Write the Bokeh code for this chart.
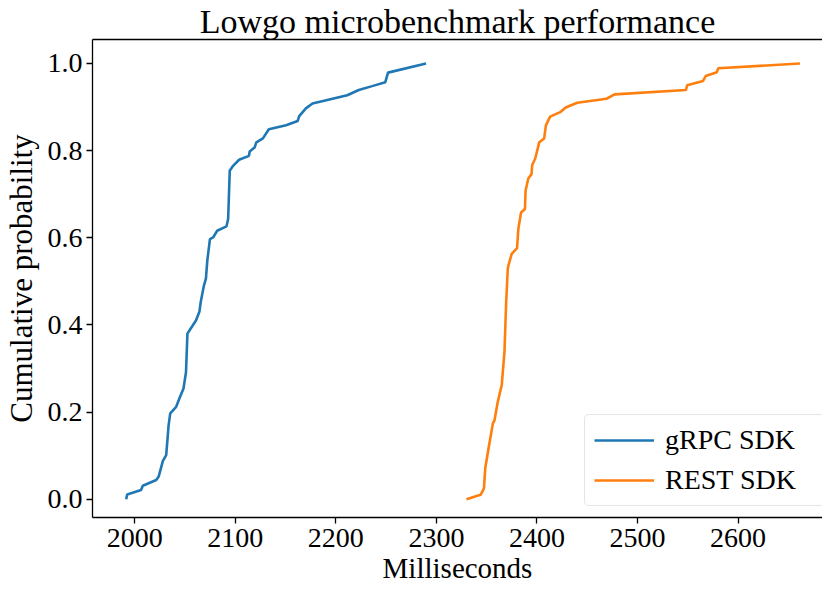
from bokeh.plotting import figure
from bokeh.models import (Range1d, FixedTicker, Legend, LegendItem, Title, LinearAxis)
from bokeh.embed import file_html
from bokeh.resources import INLINE

# CDF traces
grpc_ms = [1991.5, 1992.5, 2006.3, 2008.0, 2021.4, 2023.8, 2028.0, 2031.3, 2033.7, 2035.3,
           2041.2, 2045.1, 2048.5, 2051.0, 2052.4, 2054.4, 2060.9, 2064.3, 2065.6, 2067.5,
           2068.8, 2070.8, 2072.2, 2074.8, 2078.0, 2082.0, 2091.2, 2092.9, 2093.9, 2094.5,
           2097.8, 2103.8, 2113.6, 2114.3, 2119.2, 2120.9, 2127.5, 2133.4, 2150.5, 2162.0,
           2163.6, 2170.2, 2176.8, 2211.4, 2222.8, 2236.1, 2249.2, 2251.9, 2289.7]
grpc_prob = [0.0, 0.011, 0.021, 0.031, 0.044, 0.052, 0.088, 0.101, 0.170, 0.197,
             0.212, 0.235, 0.254, 0.292, 0.380, 0.387, 0.410, 0.430, 0.452, 0.475,
             0.490, 0.506, 0.548, 0.597, 0.601, 0.616, 0.626, 0.643, 0.712, 0.754,
             0.765, 0.779, 0.788, 0.798, 0.807, 0.819, 0.828, 0.849, 0.858, 0.868,
             0.879, 0.897, 0.908, 0.927, 0.939, 0.948, 0.957, 0.979, 1.0]

rest_ms = [2329.9, 2344.0, 2347.3, 2348.6, 2351.9, 2356.2, 2357.8, 2361.1, 2365.0, 2367.7,
           2369.4, 2371.0, 2371.6, 2374.9, 2380.2, 2381.5, 2384.2, 2388.1, 2388.7, 2391.4,
           2394.6, 2395.3, 2398.3, 2402.3, 2407.2, 2408.9, 2413.1, 2423.7, 2428.6, 2440.1,
           2469.1, 2477.3, 2548.1, 2549.4, 2565.2, 2567.8, 2579.0, 2580.3, 2661.6]
rest_prob = [0.0, 0.010, 0.025, 0.071, 0.117, 0.174, 0.181, 0.224, 0.262, 0.338,
             0.452, 0.529, 0.536, 0.563, 0.576, 0.620, 0.658, 0.666, 0.708, 0.736,
             0.746, 0.767, 0.782, 0.819, 0.828, 0.858, 0.878, 0.889, 0.899, 0.910,
             0.919, 0.929, 0.939, 0.950, 0.960, 0.971, 0.980, 0.989, 1.0]

series_names = ["gRPC SDK", "REST SDK"]
series_colors = ["#1f77b4", "#ff7f0e"]
x_ticks = [2000, 2100, 2200, 2300, 2400, 2500, 2600]
y_ticks = [0.0, 0.2, 0.4, 0.6, 0.8, 1.0]

FONT = "Liberation Serif"

p = figure(width=822, height=586, output_backend="svg", toolbar_location=None,
           x_range=Range1d(1958, 2684), y_range=Range1d(-0.042, 1.055),
           min_border_left=87, min_border_right=0, min_border_top=0, min_border_bottom=10)

p.title = Title(text="Lowgo microbenchmark performance", align="center",
                text_font=FONT, text_font_size="34px", text_font_style="normal",
                text_color="black", standoff=0)

r1 = p.line(grpc_ms, grpc_prob, line_color=series_colors[0], line_width=2.6)
r2 = p.line(rest_ms, rest_prob, line_color=series_colors[1], line_width=2.6)

p.xgrid.visible = False
p.ygrid.visible = False
p.outline_line_color = None

xaxis = p.below[0]
yaxis = p.left[0]

# top spine only (right spine lies outside the picture)
top = LinearAxis(ticker=FixedTicker(ticks=[]), axis_line_color="black", axis_line_width=1.3,
                 major_tick_line_color=None, minor_tick_line_color=None,
                 major_tick_out=0, major_tick_in=0, major_label_standoff=0)
p.add_layout(top, "above")

for ax in (xaxis, yaxis):
    ax.axis_line_color = "black"
    ax.axis_line_width = 1.3
    ax.major_tick_line_color = "black"
    ax.major_tick_line_width = 1.3
    ax.major_tick_in = 0
    ax.major_tick_out = 6
    ax.minor_tick_line_color = None
    ax.major_label_text_font = FONT
    ax.major_label_text_font_size = "28px"
    ax.major_label_text_color = "black"
    ax.axis_label_text_font = FONT
    ax.axis_label_text_font_style = "normal"
    ax.axis_label_text_color = "black"

xaxis.ticker = FixedTicker(ticks=x_ticks)
yaxis.ticker = FixedTicker(ticks=y_ticks)
yaxis.major_label_overrides = {v: f"{v:.1f}" for v in y_ticks}
xaxis.axis_label = "Milliseconds"
yaxis.axis_label = "Cumulative probability"
xaxis.axis_label_text_font_size = "29px"
yaxis.axis_label_text_font_size = "31px"
xaxis.major_label_standoff = 5
xaxis.axis_label_standoff = 2
yaxis.major_label_standoff = 4
yaxis.axis_label_standoff = 6

legend = Legend(items=[LegendItem(label=series_names[0], renderers=[r1]),
                       LegendItem(label=series_names[1], renderers=[r2])],
                location=(492, 11))
legend.label_text_font = FONT
legend.label_text_font_size = "28px"
legend.label_text_color = "black"
legend.glyph_width = 60
legend.glyph_height = 30
legend.label_height = 30
legend.label_width = 150
legend.label_standoff = 11
legend.spacing = 8
legend.padding = 9
legend.margin = 0
legend.border_line_color = "#cccccc"
legend.border_line_width = 1.3
legend.border_radius = 5
legend.background_fill_alpha = 0.8
p.add_layout(legend, "center")

open("out.html", "w").write(file_html(p, INLINE))
